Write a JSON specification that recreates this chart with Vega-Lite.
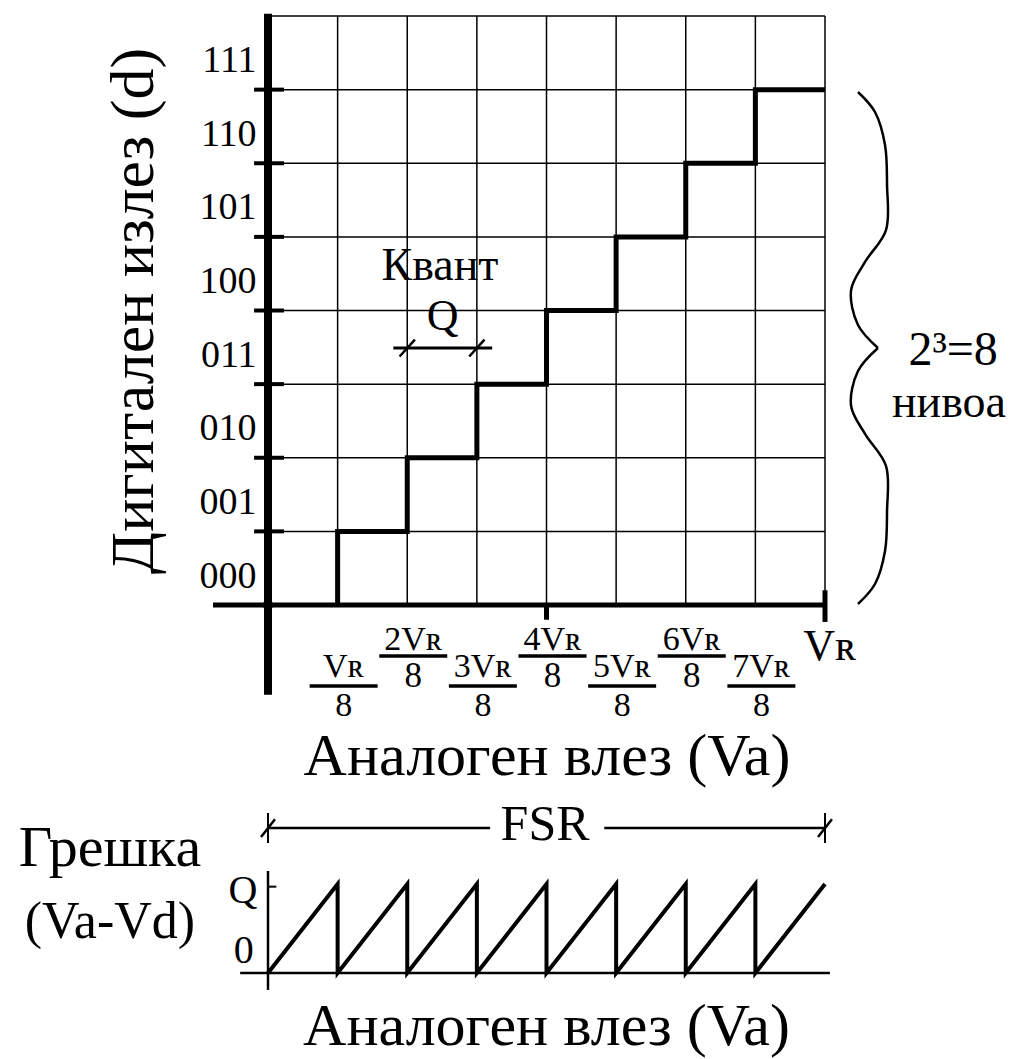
{
"$schema": "https://vega.github.io/schema/vega-lite/v6.json",
"width": 557, "height": 589,
"autosize": "none",
"padding": {"left": 268, "top": 16, "right": 191, "bottom": 454},
"background": "white",
"config": {"view": {"stroke": null}, "font": "Liberation Serif", "text": {"font": "Liberation Serif"}},
"data": {"values": [{}]},
"datasets": {
 "vgrid": [{"x":1},{"x":2},{"x":3},{"x":4},{"x":5},{"x":6},{"x":7},{"x":8}],
 "hgrid": [{"y":1},{"y":2},{"y":3},{"y":4},{"y":5},{"y":6},{"y":7},{"y":8}],
 "yticks": [{"y":1},{"y":2},{"y":3},{"y":4},{"y":5},{"y":6},{"y":7}],
 "steps": [{"i":0,"x":1,"y":0},{"i":1,"x":1,"y":1},{"i":2,"x":2,"y":1},{"i":3,"x":2,"y":2},{"i":4,"x":3,"y":2},{"i":5,"x":3,"y":3},{"i":6,"x":4,"y":3},{"i":7,"x":4,"y":4},{"i":8,"x":5,"y":4},{"i":9,"x":5,"y":5},{"i":10,"x":6,"y":5},{"i":11,"x":6,"y":6},{"i":12,"x":7,"y":6},{"i":13,"x":7,"y":7},{"i":14,"x":8,"y":7}],
 "fracUpper": [{"k":2,"num":"2Vʀ","den":"8"},{"k":4,"num":"4Vʀ","den":"8"},{"k":6,"num":"6Vʀ","den":"8"}],
 "fracLower": [{"k":1,"num":"Vʀ","den":"8"},{"k":3,"num":"3Vʀ","den":"8"},{"k":5,"num":"5Vʀ","den":"8"},{"k":7,"num":"7Vʀ","den":"8"}],
 "brace": [
  {"seg":"a","i":0,"x":8.474,"y":6.968},{"seg":"a","i":1,"x":8.718,"y":6.696},{"seg":"a","i":2,"x":8.862,"y":6.248},{"seg":"a","i":3,"x":8.891,"y":5.705},{"seg":"a","i":4,"x":8.876,"y":5.093},{"seg":"a","i":5,"x":8.575,"y":4.659},{"seg":"a","i":6,"x":8.375,"y":4.278},{"seg":"a","i":7,"x":8.474,"y":3.803},{"seg":"a","i":8,"x":8.761,"y":3.491},
  {"seg":"b","i":0,"x":8.761,"y":3.491},{"seg":"b","i":1,"x":8.474,"y":3.178},{"seg":"b","i":2,"x":8.375,"y":2.703},{"seg":"b","i":3,"x":8.575,"y":2.323},{"seg":"b","i":4,"x":8.876,"y":1.888},{"seg":"b","i":5,"x":8.891,"y":1.277},{"seg":"b","i":6,"x":8.862,"y":0.733},{"seg":"b","i":7,"x":8.718,"y":0.285},{"seg":"b","i":8,"x":8.474,"y":0.014}],
 "saw": [{"i":0,"x":0,"y":0},{"i":1,"x":1,"y":1},{"i":2,"x":1,"y":0},{"i":3,"x":2,"y":1},{"i":4,"x":2,"y":0},{"i":5,"x":3,"y":1},{"i":6,"x":3,"y":0},{"i":7,"x":4,"y":1},{"i":8,"x":4,"y":0},{"i":9,"x":5,"y":1},{"i":10,"x":5,"y":0},{"i":11,"x":6,"y":1},{"i":12,"x":6,"y":0},{"i":13,"x":7,"y":1},{"i":14,"x":7,"y":0},{"i":15,"x":8,"y":1}]
},
"layer": [
 {"layer": [
  {"data": {"name": "vgrid"}, "mark": {"type": "rule", "color": "black", "strokeWidth": 1.5},
   "encoding": {
    "x": {"field": "x", "type": "quantitative", "scale": {"domain": [0, 8]},
          "axis": {"title": "Аналоген влез (Va)", "labels": false, "ticks": false, "domain": false, "grid": false, "titleFont": "Liberation Serif", "titleFontSize": 60, "titleFontWeight": "normal", "titleColor": "black", "titlePadding": 122}},
    "y": {"datum": 0, "type": "quantitative", "scale": {"domain": [0, 8]},
          "axis": {"title": "Дигитален излез (d)", "values": [0,1,2,3,4,5,6,7], "labelExpr": "['000','001','010','011','100','101','110','111'][datum.value]", "labelFont": "Liberation Serif", "labelFontSize": 38, "labelColor": "black", "labelBaseline": "middle", "labelOffset": -29, "labelPadding": 12, "ticks": false, "domain": false, "grid": false, "titleFont": "Liberation Serif", "titleFontSize": 62, "titleFontWeight": "normal", "titleColor": "black", "titlePadding": 34}},
    "y2": {"datum": 8}}},
  {"data": {"name": "hgrid"}, "mark": {"type": "rule", "color": "black", "strokeWidth": 1.5},
   "encoding": {"y": {"field": "y", "type": "quantitative", "scale": {"domain": [0, 8]}},
    "x": {"datum": 0, "type": "quantitative", "scale": {"domain": [0, 8]}}, "x2": {"datum": 8}}},
  {"mark": {"type": "rule", "color": "black", "strokeWidth": 8},
   "encoding": {"x": {"datum": 0, "type": "quantitative", "scale": {"domain": [0, 8]}},
    "y": {"datum": -1.22, "type": "quantitative", "scale": {"domain": [0, 8]}}, "y2": {"datum": 8.03}}},
  {"mark": {"type": "rule", "color": "black", "strokeWidth": 5},
   "encoding": {"y": {"datum": 0, "type": "quantitative", "scale": {"domain": [0, 8]}},
    "x": {"datum": -0.79, "type": "quantitative", "scale": {"domain": [0, 8]}}, "x2": {"datum": 8}}},
  {"data": {"name": "yticks"}, "mark": {"type": "rule", "color": "black", "strokeWidth": 4},
   "encoding": {"y": {"field": "y", "type": "quantitative", "scale": {"domain": [0, 8]}},
    "x": {"datum": -0.2, "type": "quantitative", "scale": {"domain": [0, 8]}}, "x2": {"datum": 0.23}}},
  {"mark": {"type": "rule", "color": "black", "strokeWidth": 5},
   "encoding": {"x": {"datum": 4, "type": "quantitative", "scale": {"domain": [0, 8]}},
    "y": {"datum": 0, "type": "quantitative", "scale": {"domain": [0, 8]}}, "y2": {"datum": -0.2}}},
  {"mark": {"type": "rule", "color": "black", "strokeWidth": 5},
   "encoding": {"x": {"datum": 8, "type": "quantitative", "scale": {"domain": [0, 8]}},
    "y": {"datum": 0.2, "type": "quantitative", "scale": {"domain": [0, 8]}}, "y2": {"datum": -0.23}}},
  {"mark": {"type": "point", "filled": true, "color": "black", "size": 110, "opacity": 1},
   "encoding": {"x": {"datum": 0, "type": "quantitative", "scale": {"domain": [0, 8]}},
    "y": {"datum": 0, "type": "quantitative", "scale": {"domain": [0, 8]}}}},
  {"data": {"name": "steps"}, "mark": {"type": "line", "color": "black", "strokeWidth": 5},
   "encoding": {"x": {"field": "x", "type": "quantitative", "scale": {"domain": [0, 8]}},
    "y": {"field": "y", "type": "quantitative", "scale": {"domain": [0, 8]}}, "order": {"field": "i"}}},
  {"mark": {"type": "text", "text": "Квант", "font": "Liberation Serif", "fontSize": 46, "color": "black", "align": "center", "baseline": "alphabetic"},
   "encoding": {"x": {"datum": 2.47, "type": "quantitative", "scale": {"domain": [0, 8]}},
    "y": {"datum": 4.414, "type": "quantitative", "scale": {"domain": [0, 8]}}}},
  {"mark": {"type": "text", "text": "Q", "font": "Liberation Serif", "fontSize": 44, "color": "black", "align": "center", "baseline": "alphabetic"},
   "encoding": {"x": {"datum": 2.51, "type": "quantitative", "scale": {"domain": [0, 8]}},
    "y": {"datum": 3.735, "type": "quantitative", "scale": {"domain": [0, 8]}}}},
  {"mark": {"type": "rule", "color": "black", "strokeWidth": 3},
   "encoding": {"y": {"datum": 3.49, "type": "quantitative", "scale": {"domain": [0, 8]}},
    "x": {"datum": 1.8, "type": "quantitative", "scale": {"domain": [0, 8]}}, "x2": {"datum": 3.22}}},
  {"mark": {"type": "rule", "color": "black", "strokeWidth": 2.5},
   "encoding": {"x": {"datum": 1.89, "type": "quantitative", "scale": {"domain": [0, 8]}}, "x2": {"datum": 2.11},
    "y": {"datum": 3.375, "type": "quantitative", "scale": {"domain": [0, 8]}}, "y2": {"datum": 3.605}}},
  {"mark": {"type": "rule", "color": "black", "strokeWidth": 2.5},
   "encoding": {"x": {"datum": 2.89, "type": "quantitative", "scale": {"domain": [0, 8]}}, "x2": {"datum": 3.11},
    "y": {"datum": 3.375, "type": "quantitative", "scale": {"domain": [0, 8]}}, "y2": {"datum": 3.605}}},
  {"data": {"name": "fracUpper"}, "mark": {"type": "text", "font": "Liberation Serif", "fontSize": 34, "color": "black", "align": "center", "baseline": "alphabetic", "dx": 6},
   "encoding": {"x": {"field": "k", "type": "quantitative", "scale": {"domain": [0, 8]}},
    "y": {"datum": -0.611, "type": "quantitative", "scale": {"domain": [0, 8]}}, "text": {"field": "num"}}},
  {"data": {"name": "fracUpper"}, "mark": {"type": "tick", "orient": "horizontal", "color": "black", "size": 68, "thickness": 3.5, "opacity": 1, "xOffset": 6},
   "encoding": {"x": {"field": "k", "type": "quantitative", "scale": {"domain": [0, 8]}},
    "y": {"datum": -0.693, "type": "quantitative", "scale": {"domain": [0, 8]}}}},
  {"data": {"name": "fracUpper"}, "mark": {"type": "text", "font": "Liberation Serif", "fontSize": 35, "color": "black", "align": "center", "baseline": "alphabetic", "dx": 6},
   "encoding": {"x": {"field": "k", "type": "quantitative", "scale": {"domain": [0, 8]}},
    "y": {"datum": -1.114, "type": "quantitative", "scale": {"domain": [0, 8]}}, "text": {"field": "den"}}},
  {"data": {"name": "fracLower"}, "mark": {"type": "text", "font": "Liberation Serif", "fontSize": 34, "color": "black", "align": "center", "baseline": "alphabetic", "dx": 6},
   "encoding": {"x": {"field": "k", "type": "quantitative", "scale": {"domain": [0, 8]}},
    "y": {"datum": -0.978, "type": "quantitative", "scale": {"domain": [0, 8]}}, "text": {"field": "num"}}},
  {"data": {"name": "fracLower"}, "mark": {"type": "tick", "orient": "horizontal", "color": "black", "size": 68, "thickness": 3.5, "opacity": 1, "xOffset": 6},
   "encoding": {"x": {"field": "k", "type": "quantitative", "scale": {"domain": [0, 8]}},
    "y": {"datum": -1.1, "type": "quantitative", "scale": {"domain": [0, 8]}}}},
  {"data": {"name": "fracLower"}, "mark": {"type": "text", "font": "Liberation Serif", "fontSize": 34, "color": "black", "align": "center", "baseline": "alphabetic", "dx": 6},
   "encoding": {"x": {"field": "k", "type": "quantitative", "scale": {"domain": [0, 8]}},
    "y": {"datum": -1.508, "type": "quantitative", "scale": {"domain": [0, 8]}}, "text": {"field": "den"}}},
  {"mark": {"type": "text", "text": "Vʀ", "font": "Liberation Serif", "fontSize": 44, "color": "black", "align": "center", "baseline": "alphabetic"},
   "encoding": {"x": {"datum": 8.07, "type": "quantitative", "scale": {"domain": [0, 8]}},
    "y": {"datum": -0.747, "type": "quantitative", "scale": {"domain": [0, 8]}}}},
  {"data": {"name": "brace"}, "mark": {"type": "line", "color": "black", "strokeWidth": 2.5, "interpolate": "catmull-rom"},
   "encoding": {"x": {"field": "x", "type": "quantitative", "scale": {"domain": [0, 8]}},
    "y": {"field": "y", "type": "quantitative", "scale": {"domain": [0, 8]}}, "detail": {"field": "seg"}, "order": {"field": "i"}}},
  {"mark": {"type": "text", "text": "2³=8", "font": "Liberation Serif", "fontSize": 48, "color": "black", "align": "center", "baseline": "alphabetic"},
   "encoding": {"x": {"datum": 9.84, "type": "quantitative", "scale": {"domain": [0, 8]}},
    "y": {"datum": 3.26, "type": "quantitative", "scale": {"domain": [0, 8]}}}},
  {"mark": {"type": "text", "text": "нивоа", "font": "Liberation Serif", "fontSize": 46, "color": "black", "align": "center", "baseline": "alphabetic"},
   "encoding": {"x": {"datum": 9.78, "type": "quantitative", "scale": {"domain": [0, 8]}},
    "y": {"datum": 2.553, "type": "quantitative", "scale": {"domain": [0, 8]}}}},
  {"mark": {"type": "rule", "color": "black", "strokeWidth": 2.5},
   "encoding": {"y": {"datum": -3.029, "type": "quantitative", "scale": {"domain": [0, 8]}},
    "x": {"datum": 0, "type": "quantitative", "scale": {"domain": [0, 8]}}, "x2": {"datum": 3.19}}},
  {"mark": {"type": "rule", "color": "black", "strokeWidth": 2.5},
   "encoding": {"y": {"datum": -3.029, "type": "quantitative", "scale": {"domain": [0, 8]}},
    "x": {"datum": 4.83, "type": "quantitative", "scale": {"domain": [0, 8]}}, "x2": {"datum": 8}}},
  {"mark": {"type": "text", "text": "FSR", "font": "Liberation Serif", "fontSize": 50, "color": "black", "align": "center", "baseline": "alphabetic"},
   "encoding": {"x": {"datum": 3.98, "type": "quantitative", "scale": {"domain": [0, 8]}},
    "y": {"datum": -3.192, "type": "quantitative", "scale": {"domain": [0, 8]}}}},
  {"mark": {"type": "rule", "color": "black", "strokeWidth": 2},
   "encoding": {"x": {"datum": 0, "type": "quantitative", "scale": {"domain": [0, 8]}},
    "y": {"datum": -2.825, "type": "quantitative", "scale": {"domain": [0, 8]}}, "y2": {"datum": -3.233}}},
  {"mark": {"type": "rule", "color": "black", "strokeWidth": 2},
   "encoding": {"x": {"datum": 8, "type": "quantitative", "scale": {"domain": [0, 8]}},
    "y": {"datum": -2.825, "type": "quantitative", "scale": {"domain": [0, 8]}}, "y2": {"datum": -3.233}}},
  {"mark": {"type": "rule", "color": "black", "strokeWidth": 2.5},
   "encoding": {"x": {"datum": -0.1, "type": "quantitative", "scale": {"domain": [0, 8]}}, "x2": {"datum": 0.1},
    "y": {"datum": -3.15, "type": "quantitative", "scale": {"domain": [0, 8]}}, "y2": {"datum": -2.91}}},
  {"mark": {"type": "rule", "color": "black", "strokeWidth": 2.5},
   "encoding": {"x": {"datum": 7.9, "type": "quantitative", "scale": {"domain": [0, 8]}}, "x2": {"datum": 8.1},
    "y": {"datum": -3.15, "type": "quantitative", "scale": {"domain": [0, 8]}}, "y2": {"datum": -2.91}}},
  {"mark": {"type": "text", "text": "Грешка", "font": "Liberation Serif", "fontSize": 58, "color": "black", "align": "center", "baseline": "alphabetic"},
   "encoding": {"x": {"datum": -2.27, "type": "quantitative", "scale": {"domain": [0, 8]}},
    "y": {"datum": -3.545, "type": "quantitative", "scale": {"domain": [0, 8]}}}},
  {"mark": {"type": "text", "text": "(Va-Vd)", "font": "Liberation Serif", "fontSize": 52, "color": "black", "align": "center", "baseline": "alphabetic"},
   "encoding": {"x": {"datum": -2.27, "type": "quantitative", "scale": {"domain": [0, 8]}},
    "y": {"datum": -4.523, "type": "quantitative", "scale": {"domain": [0, 8]}}}},
  {"mark": {"type": "text", "text": "Аналоген влез (Va)", "font": "Liberation Serif", "fontSize": 60, "color": "black", "align": "center", "baseline": "alphabetic"},
   "encoding": {"x": {"datum": 4.0, "type": "quantitative", "scale": {"domain": [0, 8]}},
    "y": {"datum": -5.976, "type": "quantitative", "scale": {"domain": [0, 8]}}}}
 ]},
 {"layer": [
  {"data": {"name": "saw"}, "mark": {"type": "line", "color": "black", "strokeWidth": 4},
   "encoding": {"x": {"field": "x", "type": "quantitative", "scale": {"domain": [0, 8]}},
    "y": {"field": "y", "type": "quantitative", "scale": {"domain": [0, 1], "range": [957, 868]}, "axis": null}, "order": {"field": "i"}}},
  {"mark": {"type": "rule", "color": "black", "strokeWidth": 2.5},
   "encoding": {"x": {"datum": 0, "type": "quantitative", "scale": {"domain": [0, 8]}},
    "y": {"datum": -0.19, "type": "quantitative", "scale": {"domain": [0, 1], "range": [957, 868]}, "axis": null}, "y2": {"datum": 1.146}}},
  {"mark": {"type": "rule", "color": "black", "strokeWidth": 2.5},
   "encoding": {"y": {"datum": 0, "type": "quantitative", "scale": {"domain": [0, 1], "range": [957, 868]}, "axis": null},
    "x": {"datum": -0.4, "type": "quantitative", "scale": {"domain": [0, 8]}}, "x2": {"datum": 8.07}}},
  {"mark": {"type": "rule", "color": "black", "strokeWidth": 2},
   "encoding": {"y": {"datum": 0.97, "type": "quantitative", "scale": {"domain": [0, 1], "range": [957, 868]}, "axis": null},
    "x": {"datum": 0, "type": "quantitative", "scale": {"domain": [0, 8]}}, "x2": {"datum": 0.12}}},
  {"mark": {"type": "text", "text": "Q", "font": "Liberation Serif", "fontSize": 40, "color": "black", "align": "center", "baseline": "middle"},
   "encoding": {"x": {"datum": -0.36, "type": "quantitative", "scale": {"domain": [0, 8]}},
    "y": {"datum": 0.92, "type": "quantitative", "scale": {"domain": [0, 1], "range": [957, 868]}, "axis": null}}},
  {"mark": {"type": "text", "text": "0", "font": "Liberation Serif", "fontSize": 40, "color": "black", "align": "center", "baseline": "middle"},
   "encoding": {"x": {"datum": -0.35, "type": "quantitative", "scale": {"domain": [0, 8]}},
    "y": {"datum": 0.25, "type": "quantitative", "scale": {"domain": [0, 1], "range": [957, 868]}, "axis": null}}}
 ]}
],
"resolve": {"scale": {"y": "independent"}}
}
